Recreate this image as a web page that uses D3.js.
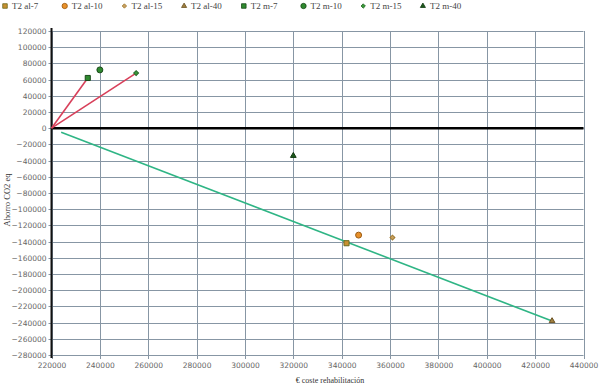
<!DOCTYPE html>
<html>
<head>
<meta charset="utf-8">
<script src="https://cdn.jsdelivr.net/npm/d3@7"></script>
<style>
body { margin: 0; background: #fff; }
</style>
</head>
<body>
<div id="chart"></div>
<script>
// series data
var seriesNames = ["T2 al-7", "T2 al-10", "T2 al-15", "T2 al-40", "T2 m-7", "T2 m-10", "T2 m-15", "T2 m-40"];
var seriesX = [342000, 347000, 361000, 427000, 235000, 240000, 255000, 320000];
var seriesY = [-142000, -132000, -135000, -238000, 62000, 72000, 68000, -34000];
var seriesShape = ["square", "circle", "diamond", "triangle", "square", "circle", "diamond", "triangle"];
var seriesFill = ["#c89030", "#e8902a", "#c8a060", "#a08040", "#2f8a2f", "#2f8a2f", "#3a9a3a", "#1d5a1d"];
var seriesStroke = ["#6a6a20", "#9a5a10", "#a07a30", "#6a5020", "#1a4a1a", "#1a4a1a", "#2a6a2a", "#103810"];

// trend lines
var redLines = [
  [[220000, 0], [235000, 62000]],
  [[220000, 0], [255000, 68000]]
];
var greenLine = [[224000, -5000], [427000, -238000]];

var xTicks = d3.range(220000, 440001, 20000);
var yTicks = d3.range(-280000, 120001, 20000);

var svgWidth = 600, svgHeight = 388;
var plotLeft = 51.5, plotRight = 583.5, plotTop = 31, plotBottom = 355;

var svg = d3.select("#chart").append("svg").attr("width", svgWidth).attr("height", svgHeight);

var x = d3.scaleLinear().domain([220000, 440000]).range([plotLeft, plotRight]);
var y = d3.scaleLinear().domain([-280000, 120000]).range([plotBottom, plotTop]);

// grid
svg.append("g").selectAll("line").data(xTicks).enter().append("line")
  .attr("x1", d => Math.round(x(d)) + 0.5).attr("x2", d => Math.round(x(d)) + 0.5)
  .attr("y1", plotTop).attr("y2", plotBottom + 4)
  .attr("stroke", "#8796a4").attr("stroke-width", 1);
svg.append("g").selectAll("line").data(yTicks).enter().append("line")
  .attr("y1", d => Math.round(y(d)) + 0.5).attr("y2", d => Math.round(y(d)) + 0.5)
  .attr("x1", plotLeft - 3).attr("x2", plotRight)
  .attr("stroke", "#8796a4").attr("stroke-width", 1);

// axes labels
var xAxis = d3.axisBottom(x).tickValues(xTicks).tickSize(0).tickPadding(8).tickFormat(d3.format("d"));
var gx = svg.append("g").attr("transform", "translate(0," + plotBottom + ")").call(xAxis);
gx.select(".domain").remove();
gx.selectAll("text").attr("font-family", "DejaVu Sans").attr("font-size", "7.5px").attr("fill", "#666");

var yAxis = d3.axisLeft(y).tickValues(yTicks).tickSize(0).tickPadding(5).tickFormat(d3.format("d"));
var gy = svg.append("g").attr("transform", "translate(" + plotLeft + ",0)").call(yAxis);
gy.select(".domain").remove();
gy.selectAll("text").attr("font-family", "DejaVu Sans").attr("font-size", "7.5px").attr("fill", "#666");

// left axis and zero line
svg.append("line").attr("x1", plotLeft).attr("x2", plotLeft).attr("y1", plotTop - 3).attr("y2", plotBottom + 3)
  .attr("stroke", "#111").attr("stroke-width", 2);
svg.append("line").attr("x1", plotLeft).attr("x2", plotRight).attr("y1", y(0)).attr("y2", y(0))
  .attr("stroke", "#000").attr("stroke-width", 2.5);

// lines
var line = d3.line().x(d => x(d[0])).y(d => y(d[1]));
redLines.forEach(function (l) {
  svg.append("path").attr("d", line(l)).attr("fill", "none").attr("stroke", "#d8405a").attr("stroke-width", 1.6);
});
svg.append("path").attr("d", line(greenLine)).attr("fill", "none").attr("stroke", "#2fb585").attr("stroke-width", 1.6);

// markers (diamond = rotated square)
var symbolTypes = { square: d3.symbolSquare, circle: d3.symbolCircle, diamond: d3.symbolSquare, triangle: d3.symbolTriangle };
var symbolSizes = { square: 26, circle: 28, diamond: 12, triangle: 14 };
var symbolRot = { square: 0, circle: 0, diamond: 45, triangle: 0 };
for (var i = 0; i < seriesNames.length; i++) {
  var sh = seriesShape[i];
  svg.append("path")
    .attr("d", d3.symbol().type(symbolTypes[sh]).size(symbolSizes[sh])())
    .attr("transform", "translate(" + x(seriesX[i]) + "," + y(seriesY[i]) + ") rotate(" + symbolRot[sh] + ")")
    .attr("fill", seriesFill[i]).attr("stroke", seriesStroke[i]).attr("stroke-width", 1);
}

// legend
for (var i = 0; i < seriesNames.length; i++) {
  var lx = 5 + i * 59.7;
  var sh = seriesShape[i];
  svg.append("path")
    .attr("d", d3.symbol().type(symbolTypes[sh]).size(symbolSizes[sh] * 0.8)())
    .attr("transform", "translate(" + lx + ",6) rotate(" + symbolRot[sh] + ")")
    .attr("fill", seriesFill[i]).attr("stroke", seriesStroke[i]).attr("stroke-width", 0.8);
  svg.append("text").attr("x", lx + 7).attr("y", 9)
    .attr("font-family", "Liberation Serif").attr("font-size", "9px").attr("fill", "#444")
    .text(seriesNames[i]);
}

// axis titles
svg.append("text").attr("x", 330).attr("y", 383).attr("text-anchor", "middle")
  .attr("font-family", "Liberation Serif").attr("font-size", "8px").attr("fill", "#333")
  .text("€ coste rehabilitación");
svg.append("text").attr("transform", "translate(10,200) rotate(-90)").attr("text-anchor", "middle")
  .attr("font-family", "Liberation Serif").attr("font-size", "8.5px").attr("fill", "#333")
  .text("Ahorro CO2 eq");
</script>
</body>
</html>
